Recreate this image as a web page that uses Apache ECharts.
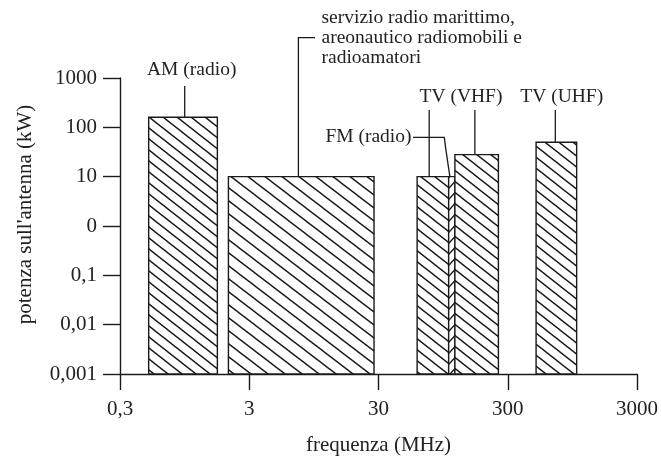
<!DOCTYPE html>
<html>
<head>
<meta charset="utf-8">
<script src="https://cdn.jsdelivr.net/npm/echarts@6/dist/echarts.min.js"></script>
<style>
  html, body { margin: 0; padding: 0; background: #fff; }
  #chart { width: 661px; height: 461px; }
</style>
</head>
<body>
<div id="chart"></div>
<script>
// Frequency bands (MHz) and antenna power (kW)
const bandNames = ['AM (radio)', 'servizio radio marittimo, areonautico radiomobili e radioamatori',
                   'TV (VHF)', 'FM (radio)', 'TV (VHF)', 'TV (UHF)'];
const freqStartMHz = [0.5, 2.07, 59.7, 104.7, 117, 497];
const freqEndMHz   = [1.7, 27.7, 104.7, 117, 254, 1024];
const powerKW      = [160, 10, 10, 10, 28, 50];

// Axis tick labels (one per decade)
const xTickLabels = ['0,3', '3', '30', '300', '3000'];
const yTickLabels = ['0,001', '0,01', '0,1', '0', '10', '100', '1000'];

// Both axes are logarithmic: x counts decades above 0.3 MHz, y is log10(kW)
const F0 = 0.3;
const xPos = f => Math.log10(f / F0);
const yPos = p => Math.log10(p);
const Y_MIN = -3, Y_MAX = 3;

const INK = '#1a1a1a';
const SERIF = '"Liberation Serif", "Times New Roman", serif';

// Diagonal hatch tile; dir 1 = "\" lines, dir -1 = "/" lines
function hatch(w, h, dir) {
  const c = document.createElement('canvas');
  c.width = w; c.height = h;
  const g = c.getContext('2d');
  g.fillStyle = '#fff';
  g.fillRect(0, 0, w, h);
  g.strokeStyle = INK;
  g.lineWidth = 1.4;
  g.beginPath();
  for (let i = -1; i <= 1; i++) {
    if (dir > 0) {
      g.moveTo(i * w - w, -h);
      g.lineTo(i * w + 2 * w, 2 * h);
    } else {
      g.moveTo(i * w - w, 2 * h);
      g.lineTo(i * w + 2 * w, -h);
    }
  }
  g.stroke();
  return { image: c, repeat: 'repeat' };
}
const hatchBack = hatch(14, 11, 1);
const hatchWide = hatch(17, 13, 1);
const hatchFwd = hatch(10, 11, -1);
const bandFill = [hatchBack, hatchWide, hatchBack, hatchFwd, hatchBack, hatchBack];

const chart = echarts.init(document.getElementById('chart'), null, { renderer: 'canvas' });

const bandData = freqStartMHz.map((f, i) => [xPos(f), xPos(freqEndMHz[i]), yPos(powerKW[i]), bandNames[i]]);

chart.setOption({
  backgroundColor: '#fff',
  animation: false,
  grid: { left: 120, right: 23, top: 78, bottom: 85 },
  xAxis: {
    type: 'value',
    min: 0, max: 4, interval: 1,
    name: 'frequenza (MHz)',
    nameLocation: 'middle',
    nameGap: 61,
    nameTextStyle: { fontFamily: SERIF, fontSize: 21, color: '#222' },
    axisLine: { onZero: false, lineStyle: { color: INK, width: 1.4 } },
    axisTick: { show: true, length: 16, lineStyle: { color: INK, width: 1.4 } },
    axisLabel: {
      margin: 25, fontFamily: SERIF, fontSize: 21, color: '#222',
      formatter: v => xTickLabels[Math.round(v)]
    },
    splitLine: { show: false }
  },
  yAxis: {
    type: 'value',
    min: Y_MIN, max: Y_MAX, interval: 1,
    name: "potenza sull'antenna (kW)",
    nameLocation: 'middle',
    nameGap: 84,
    nameTextStyle: { fontFamily: SERIF, fontSize: 21, color: '#222', padding: [0, 0, 0, 23] },
    axisLine: { onZero: false, lineStyle: { color: INK, width: 1.4 } },
    axisTick: { show: true, length: 17, lineStyle: { color: INK, width: 1.4 } },
    axisLabel: {
      margin: 23, fontFamily: SERIF, fontSize: 21, color: '#222',
      formatter: v => yTickLabels[Math.round(v) - Y_MIN]
    },
    splitLine: { show: false }
  },
  series: [{
    type: 'custom',
    data: bandData,
    encode: { x: [0, 1], y: 2 },
    renderItem: (params, api) => {
      const p0 = api.coord([api.value(0), Y_MIN]);
      const p1 = api.coord([api.value(1), api.value(2)]);
      return {
        type: 'rect',
        shape: { x: p0[0], y: p1[1], width: p1[0] - p0[0], height: p0[1] - p1[1] },
        style: { fill: bandFill[params.dataIndex], stroke: INK, lineWidth: 1.4 }
      };
    }
  }]
});

// Callouts: labels with leader lines pointing at the bands
const P = (f, p) => chart.convertToPixel({ gridIndex: 0 }, [xPos(f), yPos(p)]);
const lineStyle = { stroke: INK, lineWidth: 1.3, fill: null };
const noteFont = '19.5px ' + SERIF;

const am = P(0.95, powerKW[0]);
const mar = P(7.2, powerKW[1]);
const vhf1 = P(74, powerKW[2]);
const fm = P(107, powerKW[3]);
const vhf2 = P(167, powerKW[4]);
const uhf = P(700, powerKW[5]);

const label = (text, x, y, align, vAlign) => ({
  type: 'text', x, y, silent: true,
  style: { text, fill: '#222', font: noteFont, textAlign: align, textVerticalAlign: vAlign, lineHeight: 20 }
});
const seg = (pts) => ({ type: 'polyline', silent: true, shape: { points: pts }, style: lineStyle });

chart.setOption({
  graphic: [
    label('AM (radio)', am[0] + 7, 70, 'center', 'middle'),
    seg([[am[0], 86], [am[0], am[1]]]),

    label('servizio radio marittimo,\nareonautico radiomobili e\nradioamatori', 321.5, 8, 'left', 'top'),
    seg([[315, 37.7], [mar[0], 37.7], [mar[0], mar[1]]]),

    label('TV (VHF)', 461, 96.7, 'center', 'middle'),
    seg([[vhf1[0], 110], [vhf1[0], vhf1[1]]]),
    seg([[vhf2[0], 110], [vhf2[0], vhf2[1]]]),

    label('TV (UHF)', 561.7, 96.7, 'center', 'middle'),
    seg([[uhf[0], 110], [uhf[0], uhf[1]]]),

    label('FM (radio)', 411.5, 137, 'right', 'middle'),
    seg([[413, 137.3], [444.3, 137.3], [445.7, 148.3], [fm[0], fm[1]]])
  ]
});
</script>
</body>
</html>
